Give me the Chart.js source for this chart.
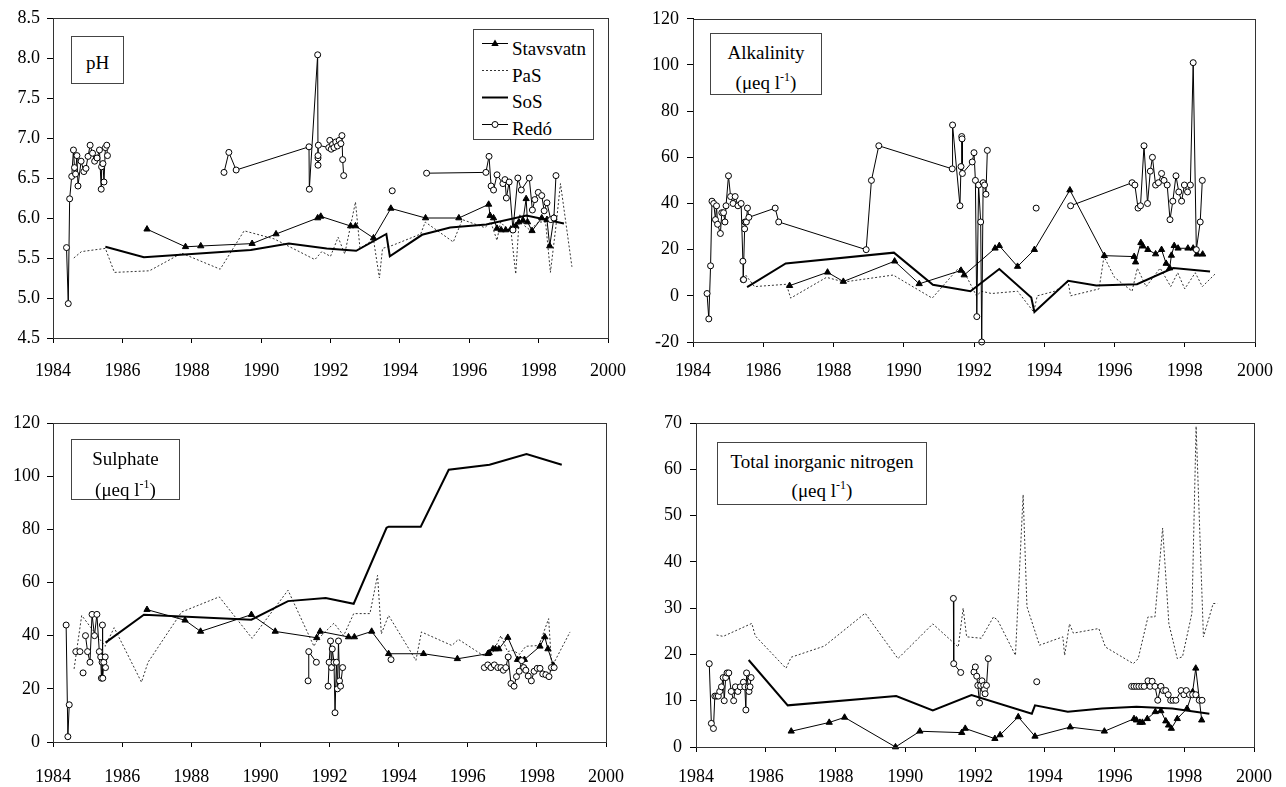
<!DOCTYPE html>
<html><head><meta charset="utf-8">
<script src="https://cdn.jsdelivr.net/npm/chart.js@4.4.0/dist/chart.umd.min.js"></script>
<style>
body{margin:0;background:#fff;width:1286px;height:787px;position:relative;overflow:hidden;font-family:'Liberation Serif','Times New Roman',serif;color:#000;}
canvas{position:absolute;}
.tbox{position:absolute;border:1px solid #444;box-sizing:border-box;text-align:center;font-size:19px;background:#fff;white-space:nowrap;}
.tbox sup{font-size:12px;vertical-align:0;position:relative;top:-8px;}
.leg{position:absolute;left:473px;top:29px;width:121px;height:111px;border:1px solid #444;box-sizing:border-box;background:#fff;}
.lt{position:absolute;left:512px;font-size:19px;line-height:19px;white-space:nowrap;}
</style></head><body>
<canvas id="c1" width="643" height="392" style="left:0;top:0"></canvas>
<canvas id="c2" width="646" height="392" style="left:640px;top:0"></canvas>
<canvas id="c3" width="643" height="392" style="left:0;top:395px"></canvas>
<canvas id="c4" width="646" height="392" style="left:640px;top:395px"></canvas>

<div class="tbox" style="left:71px;top:36px;width:53px;height:48px;line-height:48px;padding-top:2px;">pH</div>
<div class="tbox" style="left:710px;top:33px;width:112px;height:62px;line-height:30px;padding-top:4px;">Alkalinity<br>(μeq l<sup>-1</sup>)</div>
<div class="tbox" style="left:71px;top:439px;width:109px;height:61px;line-height:31px;padding-top:3px;">Sulphate<br>(μeq l<sup>-1</sup>)</div>
<div class="tbox" style="left:717px;top:442px;width:210px;height:63px;line-height:28.5px;padding-top:5px;">Total inorganic nitrogen<br>(μeq l<sup>-1</sup>)</div>

<div class="leg"></div>
<svg style="position:absolute;left:0;top:0" width="640" height="150">
  <line x1="482" y1="43.5" x2="508" y2="43.5" stroke="#000" stroke-width="1"/>
  <polygon points="495,39.5 491.3,46 498.7,46" fill="#000"/>
  <line x1="482" y1="70.5" x2="508" y2="70.5" stroke="#333" stroke-width="1" stroke-dasharray="2,2"/>
  <line x1="482" y1="97.5" x2="508" y2="97.5" stroke="#000" stroke-width="2"/>
  <line x1="482" y1="124.5" x2="508" y2="124.5" stroke="#000" stroke-width="1"/>
  <circle cx="495" cy="124.5" r="3" fill="#fff" stroke="#000" stroke-width="1"/>
</svg>
<div class="lt" style="top:39px">Stavsvatn</div>
<div class="lt" style="top:66px">PaS</div>
<div class="lt" style="top:92px">SoS</div>
<div class="lt" style="top:119px">Redó</div>

<script>
// ---------- axis ticks ----------
const yearTicks = [1984,1986,1988,1990,1992,1994,1996,1998,2000];
const phTicks = [4.5,5.0,5.5,6.0,6.5,7.0,7.5,8.0,8.5];
const alkTicks = [-20,0,20,40,60,80,100,120];
const so4Ticks = [0,20,40,60,80,100,120];
const tinTicks = [0,10,20,30,40,50,60,70];
const seriesNames = ['Stavsvatn','PaS','SoS','Redó'];

// ---------- pH ----------
const phStavsvatn = [[1986.71,5.86],[1987.82,5.64],[1988.26,5.65],[1989.74,5.68],[1990.43,5.80],[1991.63,6.00],[1991.72,6.02],[1992.58,5.90],[1992.72,5.90],[1993.24,5.75],[1993.74,6.12],[1994.74,6.00],[1995.70,6.00],[1996.56,6.17],[1996.60,6.03],[1996.70,6.00],[1996.80,5.87],[1996.92,5.85],[1997.05,5.85],[1997.20,5.86],[1997.34,5.90],[1997.43,5.95],[1997.55,5.97],[1997.64,6.24],[1997.68,5.95],[1997.81,5.84],[1998.09,6.00],[1998.24,5.98],[1998.32,5.65],[1998.44,6.00]];
const phPaS = [[1984.60,5.50],[1984.82,5.58],[1985.51,5.62],[1985.77,5.32],[1986.78,5.34],[1987.71,5.56],[1988.82,5.36],[1989.51,5.84],[1990.37,5.74],[1991.55,5.48],[1991.75,5.58],[1992.00,5.52],[1992.22,5.76],[1992.41,5.55],[1992.72,6.20],[1992.85,5.62],[1993.24,5.73],[1993.41,5.25],[1993.50,5.62],[1993.80,5.66],[1994.60,5.80],[1994.73,5.95],[1995.54,5.70],[1995.80,5.98],[1996.45,5.88],[1996.62,5.95],[1996.80,5.72],[1996.90,5.95],[1997.05,5.88],[1997.20,5.85],[1997.34,5.30],[1997.45,6.05],[1997.60,5.90],[1997.75,5.85],[1998.00,5.95],[1998.20,5.95],[1998.34,5.32],[1998.50,5.90],[1998.63,6.43],[1998.96,5.39]];
const phSoS = [[1985.51,5.64],[1986.62,5.51],[1989.70,5.60],[1990.80,5.68],[1991.89,5.62],[1992.74,5.59],[1993.61,5.80],[1993.71,5.52],[1994.64,5.79],[1995.45,5.88],[1996.49,5.92],[1997.65,6.03],[1998.73,5.93]];
const phRedo = [[1984.39,5.63],[1984.44,4.93],[1984.48,6.24],[1984.54,6.52],[1984.59,6.85],[1984.62,6.63],[1984.65,6.55],[1984.69,6.78],[1984.72,6.40],[1984.81,6.71],[1984.89,6.58],[1984.95,6.62],[1985.01,6.77],[1985.07,6.91],[1985.14,6.81],[1985.20,6.71],[1985.27,6.75],[1985.34,6.85],[1985.39,6.36],[1985.40,6.64],[1985.44,6.68],[1985.47,6.45],[1985.51,6.88],[1985.55,6.91],[1985.57,6.78],[1986.5,null],[1988.93,6.57],[1989.07,6.82],[1989.28,6.60],[1991.38,6.89],[1991.39,6.36],[1991.63,8.04],[1991.64,6.66],[1991.64,6.75],[1991.64,6.78],[1991.65,6.91],[1991.95,6.88],[1991.98,6.97],[1992.02,6.86],[1992.06,6.92],[1992.10,6.88],[1992.15,6.95],[1992.20,6.90],[1992.25,6.97],[1992.30,6.93],[1992.33,7.03],[1992.35,6.73],[1992.38,6.53],[1993.0,null],[1993.78,6.34],[1994.2,null],[1994.77,6.56],[1996.48,6.57],[1996.57,6.77],[1996.63,6.40],[1996.70,6.35],[1996.80,6.54],[1996.97,6.43],[1997.03,6.48],[1997.07,6.25],[1997.15,6.45],[1997.26,5.85],[1997.40,6.50],[1997.50,6.35],[1997.73,6.50],[1997.82,6.10],[1997.89,6.23],[1997.99,6.32],[1998.09,6.28],[1998.16,6.09],[1998.24,6.19],[1998.35,5.98],[1998.44,6.00],[1998.50,6.53]];

// ---------- Alkalinity ----------
const alkStavsvatn = [[1986.75,4.4],[1987.83,10.2],[1988.28,6.2],[1989.74,15],[1990.44,5.2],[1991.63,11],[1991.72,9],[1992.60,20.6],[1992.72,21.7],[1993.24,12.7],[1993.72,20],[1994.73,45.8],[1995.71,17.4],[1996.56,17],[1996.60,14.6],[1996.75,23],[1996.81,21.5],[1996.95,20],[1997.17,18.1],[1997.34,20],[1997.47,14],[1997.57,12],[1997.62,17.5],[1997.70,21.7],[1997.81,20.6],[1998.09,20.6],[1998.24,20.6],[1998.35,18],[1998.51,18]];
const alkPaS = [[1985.50,9],[1985.75,4],[1986.66,5],[1986.78,-1],[1987.80,8],[1988.30,6],[1989.70,9],[1990.81,-1],[1991.56,12],[1991.70,11],[1991.80,8],[1992.07,0],[1992.21,2],[1992.50,1],[1993.24,2],[1993.70,-7],[1993.80,0],[1994.30,2],[1994.68,6],[1994.75,0],[1995.56,3],[1995.70,17],[1996.00,8],[1996.50,2],[1996.65,12],[1996.90,4],[1997.30,12],[1997.60,4],[1997.80,10],[1998.00,3],[1998.30,10],[1998.50,4],[1998.90,10]];
const alkSoS = [[1985.54,3.8],[1986.64,14],[1989.72,18.7],[1990.83,4.8],[1991.90,2],[1992.72,11.6],[1993.63,-0.7],[1993.72,-7],[1994.68,6.5],[1995.48,4.5],[1996.64,5],[1997.67,12],[1998.72,10.5]];
const alkRedo = [[1984.40,1],[1984.45,-10],[1984.50,13],[1984.54,41],[1984.59,40],[1984.64,33],[1984.67,39],[1984.70,31],[1984.78,27],[1984.82,36],[1984.87,36],[1984.91,32],[1984.94,39],[1985.01,52],[1985.07,43],[1985.14,40],[1985.20,43],[1985.28,39],[1985.37,40],[1985.42,15],[1985.43,7],[1985.44,7],[1985.47,29],[1985.48,32],[1985.52,32],[1985.55,38],[1985.59,34],[1986.34,38],[1986.44,32],[1988.93,20],[1989.08,50],[1989.29,65],[1991.38,55],[1991.39,74],[1991.60,39],[1991.63,56],[1991.65,69],[1991.66,68],[1991.67,53],[1991.95,58],[1992.00,62],[1992.04,50],[1992.08,-9],[1992.13,48],[1992.19,32],[1992.22,-20],[1992.26,49],[1992.30,48],[1992.34,44],[1992.38,63],[1993.0,null],[1993.77,38],[1994.2,null],[1994.75,39],[1996.50,49],[1996.58,48],[1996.67,38],[1996.74,39],[1996.84,65],[1996.94,40],[1997.02,54],[1997.08,60],[1997.17,48],[1997.25,49],[1997.34,53],[1997.41,50],[1997.50,48],[1997.58,33],[1997.66,41],[1997.75,52],[1997.83,45],[1997.91,41],[1997.99,48],[1998.08,45],[1998.16,48],[1998.24,101],[1998.33,20],[1998.44,32],[1998.50,50]];

// ---------- Sulphate ----------
const so4Stavsvatn = [[1986.72,49.8],[1987.82,45.8],[1988.27,41.6],[1989.74,47.9],[1990.43,41.6],[1991.63,39.2],[1991.73,41.6],[1992.55,39.5],[1992.72,39.5],[1993.22,41.6],[1993.71,33.2],[1994.72,33.2],[1995.70,31.3],[1996.58,33.2],[1996.62,33.5],[1996.73,35],[1996.80,35],[1996.90,35],[1997.16,39.3],[1997.44,31],[1997.52,31],[1997.64,31],[1998.09,36],[1998.23,39.5],[1998.32,35],[1998.48,28.8]];
const so4PaS = [[1984.61,27.5],[1984.83,47.6],[1985.51,36],[1985.77,43],[1986.56,22.5],[1986.75,30],[1987.72,48.9],[1988.81,54.6],[1989.76,39],[1990.80,57.1],[1991.55,36],[1991.65,38.5],[1992.13,44.7],[1992.41,40],[1992.70,48.3],[1993.17,48.3],[1993.39,62.7],[1993.50,40.7],[1993.71,47.6],[1994.50,30.7],[1994.66,41.4],[1995.54,36.3],[1995.73,38.6],[1996.44,32.6],[1996.70,33],[1996.96,40],[1997.15,34],[1997.30,34.5],[1997.50,33],[1997.68,36],[1998.06,36.3],[1998.34,46.4],[1998.43,28.2],[1998.96,41.4]];
const so4SoS = [[1985.52,37.4],[1986.63,47.9],[1989.74,46],[1990.80,53],[1991.89,54.2],[1992.70,52],[1993.65,80.6],[1993.71,81],[1994.64,81],[1995.45,102.4],[1996.63,104.3],[1997.70,108.3],[1998.72,104.3]];
const so4Redo = [[1984.38,44],[1984.43,2],[1984.47,14],[1984.55,null],[1984.66,34],[1984.78,34],[1984.82,null],[1984.87,26],[1984.90,null],[1984.94,40],[1985.00,34],[1985.07,30],[1985.13,48],[1985.20,40],[1985.27,48],[1985.34,34],[1985.38,32],[1985.40,24],[1985.42,30],[1985.43,44],[1985.44,24],[1985.47,30],[1985.51,32],[1985.52,28],[1986.0,null],[1991.38,23],[1991.40,34],[1991.62,30],[1991.8,null],[1991.96,21],[1991.99,30],[1992.03,38],[1992.06,28],[1992.08,35],[1992.13,30],[1992.16,11],[1992.20,30],[1992.23,20],[1992.26,38],[1992.29,23],[1992.32,21],[1992.38,28],[1993.0,null],[1993.78,31],[1994.5,null],[1996.48,28],[1996.58,29],[1996.67,28],[1996.77,29],[1996.87,28],[1996.96,28],[1997.03,27],[1997.10,28],[1997.17,32],[1997.25,22],[1997.34,21],[1997.41,24.6],[1997.49,26.6],[1997.56,30.6],[1997.62,28],[1997.68,27],[1997.75,24.8],[1997.84,23],[1997.92,26.6],[1998.01,27.7],[1998.09,27.7],[1998.17,25.6],[1998.26,25.3],[1998.35,24.6],[1998.42,28],[1998.50,28]];

// ---------- Total inorganic nitrogen ----------
const tinStavsvatn = [[1986.73,3.4],[1987.82,5.3],[1988.26,6.4],[1989.72,0],[1990.42,3.4],[1991.62,3.1],[1991.72,4.0],[1992.57,1.8],[1992.72,2.6],[1993.24,6.5],[1993.72,2.3],[1994.73,4.3],[1995.71,3.4],[1996.56,6.1],[1996.63,5.8],[1996.73,5.3],[1996.80,5.3],[1996.94,6.1],[1997.17,7.6],[1997.33,7.8],[1997.47,5.6],[1997.55,4.7],[1997.63,4.0],[1997.80,6.1],[1998.08,8.3],[1998.24,11.9],[1998.33,17.0],[1998.50,5.8]];
const tinPaS = [[1984.59,24.2],[1984.78,23.9],[1985.60,26.7],[1985.70,24],[1986.58,17.0],[1986.73,19.4],[1987.68,21.8],[1988.85,28.9],[1989.79,19.1],[1990.79,26.6],[1991.52,21.6],[1991.66,30],[1991.76,23.8],[1992.18,23.5],[1992.53,28.1],[1992.65,27.4],[1993.16,19.8],[1993.38,54.5],[1993.49,30.3],[1993.85,22.0],[1994.52,23.8],[1994.57,19.8],[1994.71,26.6],[1994.82,24.6],[1995.55,25.6],[1995.74,21.6],[1996.54,18.0],[1996.68,19.1],[1996.96,28.1],[1997.16,28.1],[1997.38,47.3],[1997.56,26.6],[1997.80,19.1],[1997.95,19.5],[1998.22,28.9],[1998.34,69.3],[1998.55,23.8],[1998.83,31],[1998.95,31]];
const tinSoS = [[1985.51,18.8],[1986.63,9.0],[1989.74,11.0],[1990.79,7.9],[1991.90,11.2],[1993.63,7.2],[1993.72,9.0],[1994.66,7.6],[1995.64,8.3],[1996.63,8.7],[1997.66,8.3],[1998.72,7.2]];
const tinRedo = [[1984.38,18],[1984.44,5.1],[1984.50,4],[1984.54,11],[1984.59,11],[1984.64,11],[1984.68,12],[1984.73,13],[1984.78,15],[1984.81,10],[1984.85,15],[1984.89,16],[1984.94,16],[1985.01,12],[1985.08,10],[1985.13,13],[1985.20,12],[1985.27,13],[1985.36,14],[1985.40,13],[1985.43,8],[1985.45,16],[1985.50,13],[1985.52,12],[1985.55,13],[1985.58,15],[1986.0,null],[1991.38,32.1],[1991.39,18],[1991.59,16.1],[1991.8,null],[1991.97,16.2],[1992.01,17.3],[1992.05,15.3],[1992.08,13.3],[1992.13,9.5],[1992.16,13.3],[1992.20,14.3],[1992.25,13.3],[1992.27,12.4],[1992.29,11.5],[1992.33,13.3],[1992.38,19.1],[1993.0,null],[1993.77,14.1],[1994.5,null],[1996.49,13.1],[1996.56,13.1],[1996.63,13.1],[1996.70,13.1],[1996.78,13.1],[1996.85,13.1],[1996.96,14.3],[1997.02,13.1],[1997.08,14.2],[1997.16,13.1],[1997.24,10.1],[1997.33,13.1],[1997.40,12.2],[1997.47,12.2],[1997.54,11.3],[1997.61,10.1],[1997.68,10.1],[1997.76,10.1],[1997.91,12.2],[1997.99,11.3],[1998.06,12.2],[1998.15,11.3],[1998.24,11.3],[1998.33,11.3],[1998.43,10.1],[1998.51,10.1]];

// ---------- drawing ----------
Chart.defaults.font.family = "'Liberation Serif','Times New Roman',serif";
Chart.defaults.font.size = 18;
Chart.defaults.color = '#000';

const framePlugin = {id:'frame', afterDraw(chart){
  const {ctx, chartArea:a} = chart;
  ctx.save(); ctx.strokeStyle = '#333'; ctx.lineWidth = 1;
  ctx.strokeRect(Math.round(a.left)+0.5, Math.round(a.top)+0.5, Math.round(a.right-a.left), Math.round(a.bottom-a.top));
  ctx.restore();
}};

function toXY(arr){ return arr.map(p => ({x:p[0], y:p[1]})); }
function mkSets(stav, pas, sos, redo){
  return [
    {label:seriesNames[0], data:toXY(stav), borderColor:'#000', borderWidth:1, pointStyle:'triangle', pointRadius:3.6, pointBackgroundColor:'#000', pointBorderColor:'#000', pointBorderWidth:1, order:2},
    {label:seriesNames[1], data:toXY(pas), borderColor:'#333', borderWidth:1, borderDash:[2,2], pointRadius:0, order:4},
    {label:seriesNames[2], data:toXY(sos), borderColor:'#000', borderWidth:2, pointRadius:0, order:3},
    {label:seriesNames[3], data:toXY(redo), borderColor:'#000', borderWidth:1, pointStyle:'circle', pointRadius:3, pointBackgroundColor:'#fff', pointBorderColor:'#000', pointBorderWidth:1, order:1}
  ].map(d => Object.assign(d, {tension:0, clip:false, spanGaps:false, pointHoverRadius:d.pointRadius}));
}

function mkChart(id, sets, yTicks, yFmt, box){
  const yMin = yTicks[0], yMax = yTicks[yTicks.length-1];
  const yStep = yTicks[1]-yTicks[0];
  return new Chart(document.getElementById(id), {
    type:'line',
    data:{datasets:sets},
    options:{
      responsive:false, animation:false, events:[],
      layout:{padding:{left:0, top:box.top, right:box.right, bottom:0}},
      plugins:{legend:{display:false}, tooltip:{enabled:false}},
      scales:{
        x:{type:'linear', min:yearTicks[0], max:yearTicks[yearTicks.length-1],
           afterBuildTicks:s=>{ s.ticks = yearTicks.map(v=>({value:v})); },
           afterFit:s=>{ s.height = box.xh; },
           border:{color:'#000', width:1},
           grid:{drawOnChartArea:false, drawTicks:true, tickLength:5, color:'#000'},
           ticks:{padding:box.xpad, maxRotation:0, autoSkip:false, callback:v=>String(v)}},
        y:{type:'linear', min:yMin, max:yMax,
           afterBuildTicks:s=>{ s.ticks = yTicks.map(v=>({value:v})); },
           afterFit:s=>{ s.width = box.yw; },
           border:{color:'#000', width:1},
           grid:{drawOnChartArea:false, drawTicks:true, tickLength:6, color:'#000'},
           ticks:{padding:box.ypad, callback:v=>yFmt(v)}}
      }
    },
    plugins:[framePlugin]
  });
}

mkChart('c1', mkSets(phStavsvatn, phPaS, phSoS, phRedo), phTicks, v=>v.toFixed(1), {top:18, right:28, xh:54, yw:53, xpad:17, ypad:7});
mkChart('c2', mkSets(alkStavsvatn, alkPaS, alkSoS, alkRedo), alkTicks, v=>String(v), {top:18, right:21, xh:50, yw:53, xpad:13, ypad:8});
mkChart('c3', mkSets(so4Stavsvatn, so4PaS, so4SoS, so4Redo), so4Ticks, v=>String(v), {top:28, right:28, xh:45, yw:53, xpad:19, ypad:7});
mkChart('c4', mkSets(tinStavsvatn, tinPaS, tinSoS, tinRedo), tinTicks, v=>String(v), {top:28, right:21, xh:40, yw:56, xpad:14, ypad:8});
</script>
</body></html>
